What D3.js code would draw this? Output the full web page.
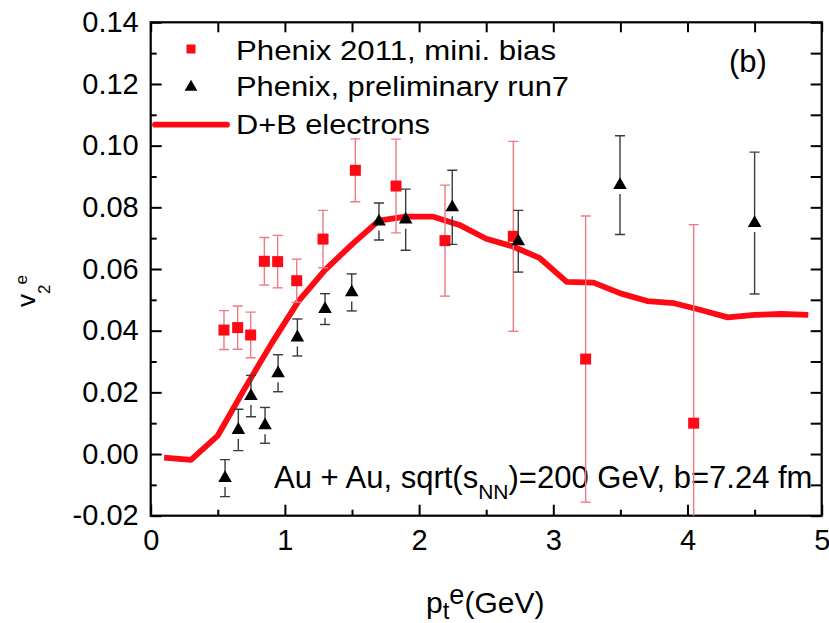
<!DOCTYPE html>
<html>
<head>
<meta charset="utf-8">
<script src="https://cdn.jsdelivr.net/npm/d3@7"></script>
<style>
  html, body { margin: 0; padding: 0; background: #fff; }
  svg { display: block; font-family: "Liberation Sans", Arial, sans-serif; }
</style>
</head>
<body>
<svg id="chart" width="829" height="623"></svg>
<script>
// ---- data ----
const xTickValues = [0, 1, 2, 3, 4, 5];
const xTickLabels = ["0", "1", "2", "3", "4", "5"];
const yTickValues = [-0.02, 0.00, 0.02, 0.04, 0.06, 0.08, 0.10, 0.12, 0.14];
const yTickLabels = ["-0.02", "0.00", "0.02", "0.04", "0.06", "0.08", "0.10", "0.12", "0.14"];

// Phenix 2011, mini. bias (red squares)
const redX   = [0.546, 0.648, 0.745, 0.847, 0.946, 1.088, 1.284, 1.525, 1.828, 2.193, 2.702, 3.241, 4.046];
const redY   = [0.0402, 0.0410, 0.0386, 0.0625, 0.0624, 0.0562, 0.0697, 0.0920, 0.0869, 0.0692, 0.0706, 0.0308, 0.0100];
const redErr = [0.0063, 0.0070, 0.0074, 0.0077, 0.0085, 0.0070, 0.0093, 0.0102, 0.0152, 0.0180, 0.0308, 0.0464, 0.0644];

// Phenix, preliminary run7 (black triangles)
const blackX   = [0.554, 0.653, 0.747, 0.852, 0.949, 1.093, 1.299, 1.498, 1.701, 1.900, 2.247, 2.739, 3.497, 4.500];
const blackY   = [-0.0078, 0.0078, 0.0188, 0.0093, 0.0262, 0.0378, 0.0470, 0.0524, 0.0754, 0.0760, 0.0800, 0.0690, 0.0872, 0.0749];
const blackErr = [0.0060, 0.0067, 0.0067, 0.0058, 0.0060, 0.0060, 0.0050, 0.0060, 0.0060, 0.0099, 0.0120, 0.0100, 0.0160, 0.0230];

// D+B electrons (red line)
const lineX = [0.1, 0.3, 0.5, 0.7, 0.9, 1.1, 1.3, 1.5, 1.7, 1.9, 2.1, 2.3, 2.5, 2.7, 2.9, 3.1, 3.3, 3.5, 3.7, 3.9, 4.1, 4.3, 4.5, 4.7, 4.9];
const lineY = [-0.0012, -0.0019, 0.0060, 0.0212, 0.0358, 0.0495, 0.0597, 0.0680, 0.0757, 0.0770, 0.0770, 0.0743, 0.0698, 0.0673, 0.0635, 0.0558, 0.0556, 0.0521, 0.0496, 0.0489, 0.0467, 0.0443, 0.0451, 0.0454, 0.0451];

const legendLabels = ["Phenix 2011, mini. bias", "Phenix, preliminary run7", "D+B electrons"];

// ---- layout ----
const L = 150.7, R = 821.7, T = 22.3, B = 515.7;
const svg = d3.select("#chart");
const x = d3.scaleLinear().domain([0, 5]).range([L, R]);
const y = d3.scaleLinear().domain([-0.02, 0.14]).range([B, T]);

const RED = "#ff0a14";
const RED_ERR = "#ee7a86";
const BLK_ERR = "#3a3a3a";
const FONT = "'Liberation Sans', Arial, sans-serif";

svg.append("defs").append("clipPath").attr("id", "clip")
  .append("rect").attr("x", L).attr("y", T).attr("width", R - L).attr("height", B - T);

// ---- axes ----
const minorX = d3.range(0.5, 5, 1);
const minorY = d3.range(-0.01, 0.14, 0.02);

function styleAxis(g) {
  g.selectAll(".domain").remove();
  g.selectAll(".tick line").attr("stroke", "#000").attr("stroke-width", 2);
  g.selectAll("text").attr("font-family", FONT).attr("font-size", 29).attr("fill", "#000");
}

// bottom
svg.append("g").attr("transform", `translate(0,${B})`)
  .call(d3.axisBottom(x).tickValues(xTickValues).tickSize(-11).tickPadding(14)
        .tickFormat((d, i) => xTickLabels[i]))
  .call(styleAxis)
  .call(g => g.selectAll("text").attr("dy", "0.71em"));
svg.append("g").attr("transform", `translate(0,${B})`)
  .call(d3.axisBottom(x).tickValues(minorX).tickSize(-6).tickFormat(""))
  .call(styleAxis);
// top
svg.append("g").attr("transform", `translate(0,${T})`)
  .call(d3.axisTop(x).tickValues(xTickValues.concat(minorX)).tickSize(-10).tickFormat(""))
  .call(styleAxis);
// left
svg.append("g").attr("transform", `translate(${L},0)`)
  .call(d3.axisLeft(y).tickValues(yTickValues).tickSize(-11).tickPadding(12)
        .tickFormat((d, i) => yTickLabels[i]))
  .call(styleAxis);
svg.append("g").attr("transform", `translate(${L},0)`)
  .call(d3.axisLeft(y).tickValues(minorY).tickSize(-6).tickFormat(""))
  .call(styleAxis);
// right
svg.append("g").attr("transform", `translate(${R},0)`)
  .call(d3.axisRight(y).tickValues(yTickValues.concat(minorY)).tickSize(-11).tickFormat(""))
  .call(styleAxis);

// frame
svg.append("rect").attr("x", L).attr("y", T).attr("width", R - L).attr("height", B - T)
  .attr("fill", "none").attr("stroke", "#000").attr("stroke-width", 2.2);

// ---- annotation text ----
const ann = svg.append("text").attr("x", 274).attr("y", 488)
  .attr("font-family", FONT).attr("font-size", 31).attr("fill", "#000");
ann.append("tspan").text("Au + Au, sqrt(s");
ann.append("tspan").attr("font-size", 21).attr("dy", 11).text("NN");
ann.append("tspan").attr("dy", -11).text(")=200 GeV, b=7.24 fm");

svg.append("text").attr("x", 729).attr("y", 72)
  .attr("font-family", FONT).attr("font-size", 31).text("(b)");

// ---- plot area ----
const plot = svg.append("g").attr("clip-path", "url(#clip)");

// red line
const lineData = lineX.map((d, i) => [d, lineY[i]]);
plot.append("path").datum(lineData)
  .attr("fill", "none").attr("stroke", RED).attr("stroke-width", 5.8)
  .attr("stroke-linejoin", "round")
  .attr("d", d3.line().x(d => x(d[0])).y(d => y(d[1])));

// red error bars
const redData = redX.map((d, i) => ({x: d, y: redY[i], e: redErr[i]}));
const rg = plot.append("g").attr("stroke", RED_ERR).attr("stroke-width", 1.4);
redData.forEach(d => {
  const cx = x(d.x);
  rg.append("line").attr("x1", cx).attr("x2", cx).attr("y1", y(d.y + d.e)).attr("y2", y(d.y - d.e));
  rg.append("line").attr("x1", cx - 5).attr("x2", cx + 5).attr("y1", y(d.y + d.e)).attr("y2", y(d.y + d.e));
  rg.append("line").attr("x1", cx - 5).attr("x2", cx + 5).attr("y1", y(d.y - d.e)).attr("y2", y(d.y - d.e));
});
plot.append("g").selectAll("rect").data(redData).join("rect")
  .attr("x", d => x(d.x) - 5.5).attr("y", d => y(d.y) - 5.5)
  .attr("width", 11).attr("height", 11).attr("fill", RED);

// black error bars (interrupted around the marker)
const blackData = blackX.map((d, i) => ({x: d, y: blackY[i], e: blackErr[i]}));
const bg = plot.append("g").attr("stroke", BLK_ERR).attr("stroke-width", 1.4);
blackData.forEach(d => {
  const cx = x(d.x), cy = y(d.y);
  const yt = y(d.y + d.e), yb = y(d.y - d.e);
  if (cy - 6 > yt) bg.append("line").attr("x1", cx).attr("x2", cx).attr("y1", yt).attr("y2", cy - 6);
  if (cy + 9 < yb) bg.append("line").attr("x1", cx).attr("x2", cx).attr("y1", cy + 9).attr("y2", yb);
  bg.append("line").attr("x1", cx - 5).attr("x2", cx + 5).attr("y1", yt).attr("y2", yt);
  bg.append("line").attr("x1", cx - 5).attr("x2", cx + 5).attr("y1", yb).attr("y2", yb);
});
const tri = d3.symbol().type(d3.symbolTriangle).size(80);
plot.append("g").selectAll("path").data(blackData).join("path")
  .attr("transform", d => `translate(${x(d.x)},${y(d.y)})`)
  .attr("d", tri).attr("fill", "#000");

// ---- legend ----
const lg = svg.append("g");
lg.append("rect").attr("x", 186.5).attr("y", 44.5).attr("width", 9).attr("height", 9).attr("fill", RED);
lg.append("path").attr("transform", "translate(191,87)").attr("d", d3.symbol().type(d3.symbolTriangle).size(70)).attr("fill", "#000");
lg.append("line").attr("x1", 155).attr("x2", 227).attr("y1", 124.7).attr("y2", 124.7)
  .attr("stroke", RED).attr("stroke-width", 5.8).attr("stroke-linecap", "round");
const legendY = [59.5, 96, 133.5];
const legendW = [320, 333, 194];
legendLabels.forEach((t, i) => {
  lg.append("text").attr("x", 236).attr("y", legendY[i])
    .attr("font-family", FONT).attr("font-size", 27)
    .attr("textLength", legendW[i]).attr("lengthAdjust", "spacingAndGlyphs")
    .text(t);
});

// ---- axis titles ----
const xt = svg.append("text").attr("x", 426).attr("y", 613)
  .attr("font-family", FONT).attr("font-size", 30).attr("fill", "#000");
xt.append("tspan").text("p");
xt.append("tspan").attr("font-size", 24).attr("dy", 6).text("t");
xt.append("tspan").attr("font-size", 27).attr("dy", -15).text("e");
xt.append("tspan").attr("dy", 9).text("(GeV)");

const yt = svg.append("text").attr("transform", "translate(35,307) rotate(-90)")
  .attr("font-family", FONT).attr("font-size", 26).attr("fill", "#000");
yt.append("tspan").text("v");
yt.append("tspan").attr("font-size", 17).attr("dy", 15).text("2");
yt.append("tspan").attr("font-size", 17).attr("dy", -23).text("e");
</script>
</body>
</html>
